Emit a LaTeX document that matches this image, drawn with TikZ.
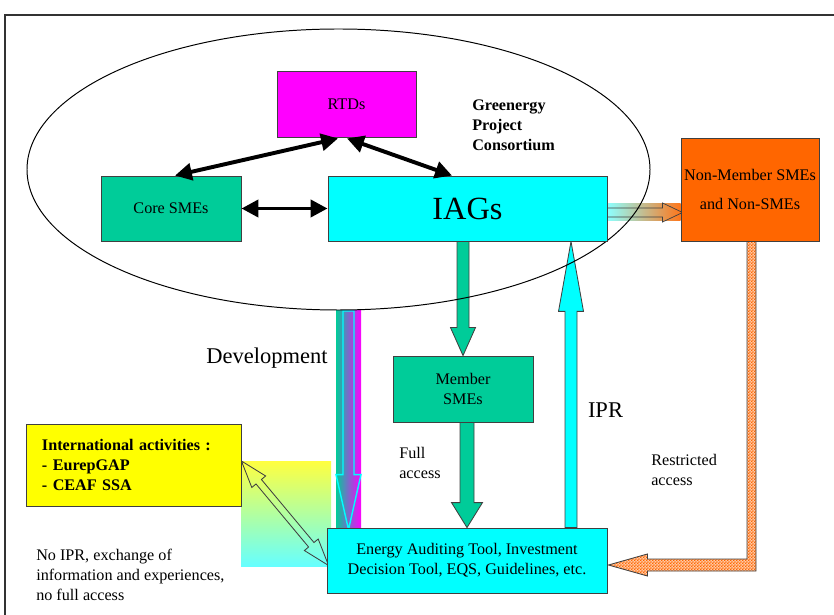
\documentclass[tikz,border=0pt]{standalone}
\usepackage{fontspec}
\setmainfont{Liberation Serif}
\usetikzlibrary{calc,arrows.meta,patterns}

\definecolor{smegreen}{RGB}{0,204,153}
\definecolor{nonorange}{RGB}{255,102,0}
\definecolor{rtdpink}{RGB}{255,0,255}
\definecolor{iagcyan}{RGB}{0,255,255}
\definecolor{intlyellow}{RGB}{255,255,0}

\pgfdeclarelayer{background}
\pgfsetlayers{background,main}

% fine checks for the restricted access arrow
\pgfdeclarepatternformonly{finecheck}{\pgfpointorigin}{\pgfqpoint{2pt}{2pt}}{\pgfqpoint{2pt}{2pt}}{%
  \pgfpathrectangle{\pgfpointorigin}{\pgfqpoint{1pt}{1pt}}%
  \pgfpathrectangle{\pgfqpoint{1pt}{1pt}}{\pgfqpoint{1pt}{1pt}}%
  \pgfusepath{fill}}

\newcommand{\px}{0.025cm}

% block arrow: style, start, tip, shaft half width, head half width, head length
\newcommand{\blockarrow}[6]{%
  \coordinate (ba0) at (#2);
  \coordinate (ba1) at (#3);
  \coordinate (bah) at ($(ba1)!#6*\px!(ba0)$);
  \filldraw[#1] ($(ba0)!#4*\px!90:(ba1)$) -- ($(bah)!#4*\px!-90:(ba0)$)
    -- ($(bah)!#5*\px!-90:(ba0)$) -- (ba1) -- ($(bah)!#5*\px!90:(ba0)$)
    -- ($(bah)!#4*\px!90:(ba0)$) -- ($(ba0)!#4*\px!-90:(ba1)$) -- cycle;
}
% same with a head at both ends
\newcommand{\dblockarrow}[6]{%
  \coordinate (da0) at (#2);
  \coordinate (da1) at (#3);
  \coordinate (dah) at ($(da0)!#6*\px!(da1)$);
  \coordinate (dbh) at ($(da1)!#6*\px!(da0)$);
  \filldraw[#1] (da0) -- ($(dah)!#5*\px!90:(da1)$) -- ($(dah)!#4*\px!90:(da1)$)
    -- ($(dbh)!#4*\px!-90:(da0)$) -- ($(dbh)!#5*\px!-90:(da0)$) -- (da1)
    -- ($(dbh)!#5*\px!90:(da0)$) -- ($(dbh)!#4*\px!90:(da0)$)
    -- ($(dah)!#4*\px!-90:(da1)$) -- ($(dah)!#5*\px!-90:(da1)$) -- cycle;
}

\begin{document}
\begin{tikzpicture}[x=0.025cm, y=-0.025cm,
    txt/.style={font=\fontsize{11.5}{14.2}\selectfont},
    box/.style={txt, draw=black!75, line width=0.6pt, inner sep=0pt, align=center},
    flow/.style={draw=black!75, line width=0.6pt},
    link/.style={line width=2.8pt, {Triangle[length=12pt,width=12pt]}-{Triangle[length=12pt,width=12pt]}},
    note/.style={txt, align=left, inner sep=0pt, anchor=west},
    big/.style={font=\fontsize{16}{19}\selectfont, inner sep=0pt}]

    \useasboundingbox (0,0) rectangle (834,615);
    \draw[black!80, line width=0.8pt] (5,615) -- (5,15) -- (834,15);

    % consortium
    \draw[black, line width=0.7pt] (338.5,169.5) ellipse [x radius=311.5*\px, y radius=140.5*\px];

    \node[box, fill=rtdpink, minimum width=139*\px, minimum height=66*\px] (rtds) at (346.5,104) {RTDs};
    \node[box, fill=smegreen, minimum width=140*\px, minimum height=65*\px] (core) at (171,208.5) {Core SMEs};
    \node[box, fill=iagcyan, minimum width=279*\px, minimum height=65*\px, font=\fontsize{23}{27}\selectfont] (iags) at (467.5,208.5) {IAGs};
    \node[note, font=\bfseries\fontsize{11.5}{14.2}\selectfont] (consortium) at (472,125) {Greenergy\\Project\\Consortium};

    \node[box, fill=nonorange, minimum width=138*\px, minimum height=103*\px] (nonmem) at (750,189.5) {Non-Member SMEs\\[6.5pt]and Non-SMEs};
    \node[box, fill=smegreen, minimum width=140*\px, minimum height=66*\px] (member) at (463,389) {Member\\SMEs};
    \node[box, fill=iagcyan, minimum width=280*\px, minimum height=65*\px] (tools) at (467,560.5) {Energy Auditing Tool, Investment\\Decision Tool, EQS, Guidelines, etc.};
    \node[box, fill=intlyellow, minimum width=215*\px, minimum height=82*\px, text width=183*\px, align=left, font=\bfseries\fontsize{11.5}{14.2}\selectfont] (intl) at (133.5,465) {International activities :\\- EurepGAP\\- CEAF SSA};

    \node[big] (devlabel) at (267,358) {Development};
    \node[big] (iprlabel) at (605.5,410) {IPR};
    \node[note] (fullaccess) at (399,463) {Full\\access};
    \node[note] (restricted) at (651,470) {Restricted\\access};
    \node[note] (noipr) at (36,575) {No IPR, exchange of\\information and experiences,\\no full access};

    \draw[link] ($(rtds.south)+(-8.5,1)$) -- ($(core.north)+(4,0)$);
    \draw[link] ($(rtds.south)+(0.5,1)$) -- ($(iags.north)+(-15.5,0)$);
    \draw[link] (core.east) -- (iags.west);

    \begin{pgfonlayer}{background}
        \shade[top color=intlyellow!75, bottom color=iagcyan!60] (241,461) rectangle (331,566);
        \dblockarrow{flow, fill=none}{$(intl.east)+(0,-4)$}{$(tools.west)+(2,5)$}{3.5}{9}{27}

        \coordinate (devtop) at (348.5,311);
        \shade[left color=smegreen, right color=rtdpink] ($(devtop)+(-12.5,0)$) rectangle ($(devtop |- tools.north)+(12.5,3)$);
        \blockarrow{draw=iagcyan, line width=1pt, fill=none}{devtop}{$(devtop |- tools.north)+(0,2)$}{5.5}{12.5}{55}

        \blockarrow{flow, fill=smegreen}{member.north |- iags.south}{member.north}{6}{12.5}{28}
        \blockarrow{flow, fill=smegreen}{$(member.south)+(4,0)$}{$(member.south |- tools.north)+(4,0)$}{7}{15.5}{25}

        \coordinate (iprx) at (571,0);
        \blockarrow{flow, fill=iagcyan}{iprx |- tools.north}{iprx |- iags.south}{6}{12.5}{70}

        \shade[left color=iagcyan!45, right color=nonorange!90] ($(iags.east)+(0,-4.5)$) rectangle ($(nonmem.west |- iags.east)+(0,12.5)$);
        \blockarrow{draw=black!75, line width=0.5pt, fill=none}{$(iags.east)+(-2,4)$}{$(nonmem.west |- iags.east)+(2,4)$}{4.5}{9.5}{20}

        \coordinate (rtop) at ($(nonmem.south)+(1.5,0)$);
        \coordinate (rtip) at ($(tools.east)+(1,4.5)$);
        \draw[flow, preaction={fill=nonorange!35}, pattern=finecheck, pattern color=nonorange] ($(rtop)+(-4.5,0)$) -- ($(rtop)+(4.5,0)$)
            -- ($(rtop |- rtip)+(4.5,6)$) -- ($(rtip)+(39,6)$) -- ($(rtip)+(39,11)$) -- (rtip)
            -- ($(rtip)+(39,-11)$) -- ($(rtip)+(39,-6)$) -- ($(rtop |- rtip)+(-4.5,-6)$) -- cycle;
    \end{pgfonlayer}
\end{tikzpicture}
\end{document}
